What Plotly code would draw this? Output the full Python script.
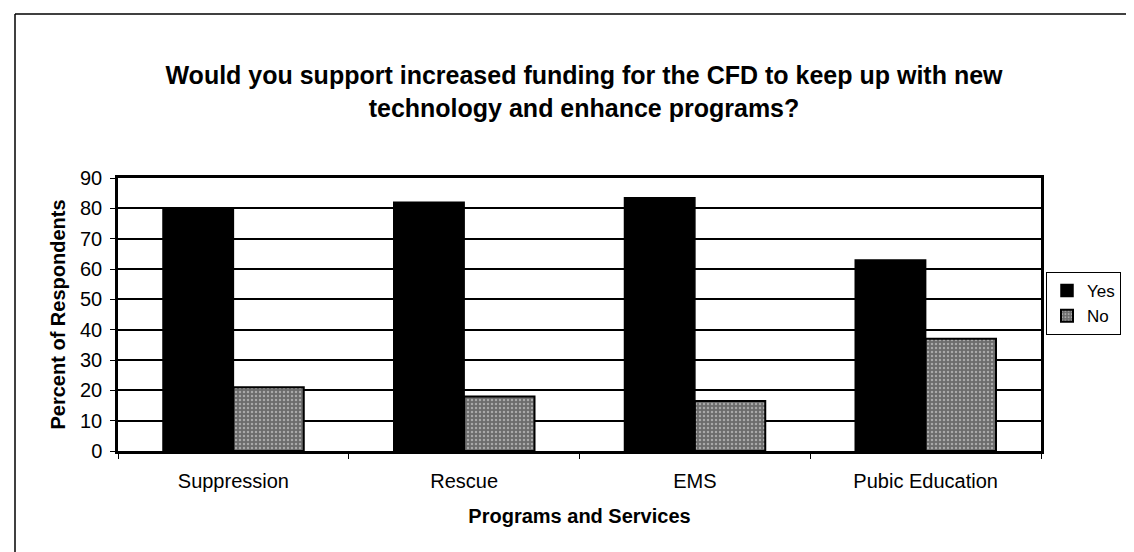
import plotly.graph_objects as go

categories = ["Suppression", "Rescue", "EMS", "Pubic Education"]
yes_values = [80, 82, 83.5, 63]
no_values = [21, 18, 16.5, 37]
y_ticks = [0, 10, 20, 30, 40, 50, 60, 70, 80, 90]

W, H = 1134, 552
L, R, T, B = 110, 101, 170, 109
pw, ph = W - L - R, H - T - B


def px_x(p):
    return (p - L) / pw


def px_y(p):
    return (H - B - p) / ph


fig = go.Figure()
fig.add_bar(
    name="Yes", x=categories, y=yes_values,
    marker=dict(color="black", line=dict(color="black", width=1.5)),
)
fig.add_bar(
    name="No", x=categories, y=no_values,
    marker=dict(
        color="#7a7a7a",
        line=dict(color="black", width=2),
        pattern=dict(shape=".", fgcolor="#a9a9a9", bgcolor="#6c6c6c",
                     size=4, solidity=0.3, fillmode="replace"),
    ),
)

fig.update_layout(
    width=W, height=H,
    margin=dict(l=L, r=R, t=T, b=B, autoexpand=False),
    paper_bgcolor="white", plot_bgcolor="white",
    font=dict(family="Liberation Sans, Arial, sans-serif", color="black", size=20),
    barmode="group", bargap=0.39, bargroupgap=0,
    title=dict(
        text="Would you support increased funding for the CFD to keep up with new<br>technology and enhance programs?",
        font=dict(size=25, weight="bold"),
        x=576 / W, xanchor="center", xref="container",
        y=1 - 76 / H, yanchor="middle", yref="container",
    ),
    legend=dict(
        x=px_x(1038), y=px_y(264), xanchor="left", yanchor="top",
        bordercolor="black", borderwidth=1, bgcolor="white",
        font=dict(size=17), tracegroupgap=0, itemwidth=30,
    ),
    showlegend=True,
)

fig.update_yaxes(
    range=[0, 90], tickvals=y_ticks, ticktext=[str(v) for v in y_ticks],
    showgrid=True, gridcolor="black", gridwidth=1.5,
    zeroline=False,
    showline=True, linecolor="black", linewidth=2.5, mirror=True,
    ticks="outside", ticklen=5, tickcolor="black", tickwidth=1,
    tickfont=dict(size=20), ticklabelstandoff=4,
    title=dict(text="Percent of Respondents", font=dict(size=20, weight="bold"), standoff=10),
)
fig.update_xaxes(
    tickson="boundaries", ticks="outside", ticklen=5, tickcolor="black", tickwidth=1,
    showline=True, linecolor="black", linewidth=2.5, mirror=True,
    tickfont=dict(size=20), ticklabelstandoff=10,
    title=dict(text="Programs and Services", font=dict(size=20, weight="bold"), standoff=19),
)

# outer chart frame (scanned: top, left, partial bottom)
frame = dict(color="black", width=1.5)
fig.add_shape(type="line", xref="paper", yref="paper",
              x0=px_x(7), x1=px_x(W), y0=px_y(6), y1=px_y(6), line=frame)
fig.add_shape(type="line", xref="paper", yref="paper",
              x0=px_x(7), x1=px_x(7), y0=px_y(6), y1=px_y(550), line=frame)
fig.add_shape(type="line", xref="paper", yref="paper",
              x0=px_x(7), x1=px_x(290), y0=px_y(550), y1=px_y(550), line=frame)

fig.write_html("out.html")
